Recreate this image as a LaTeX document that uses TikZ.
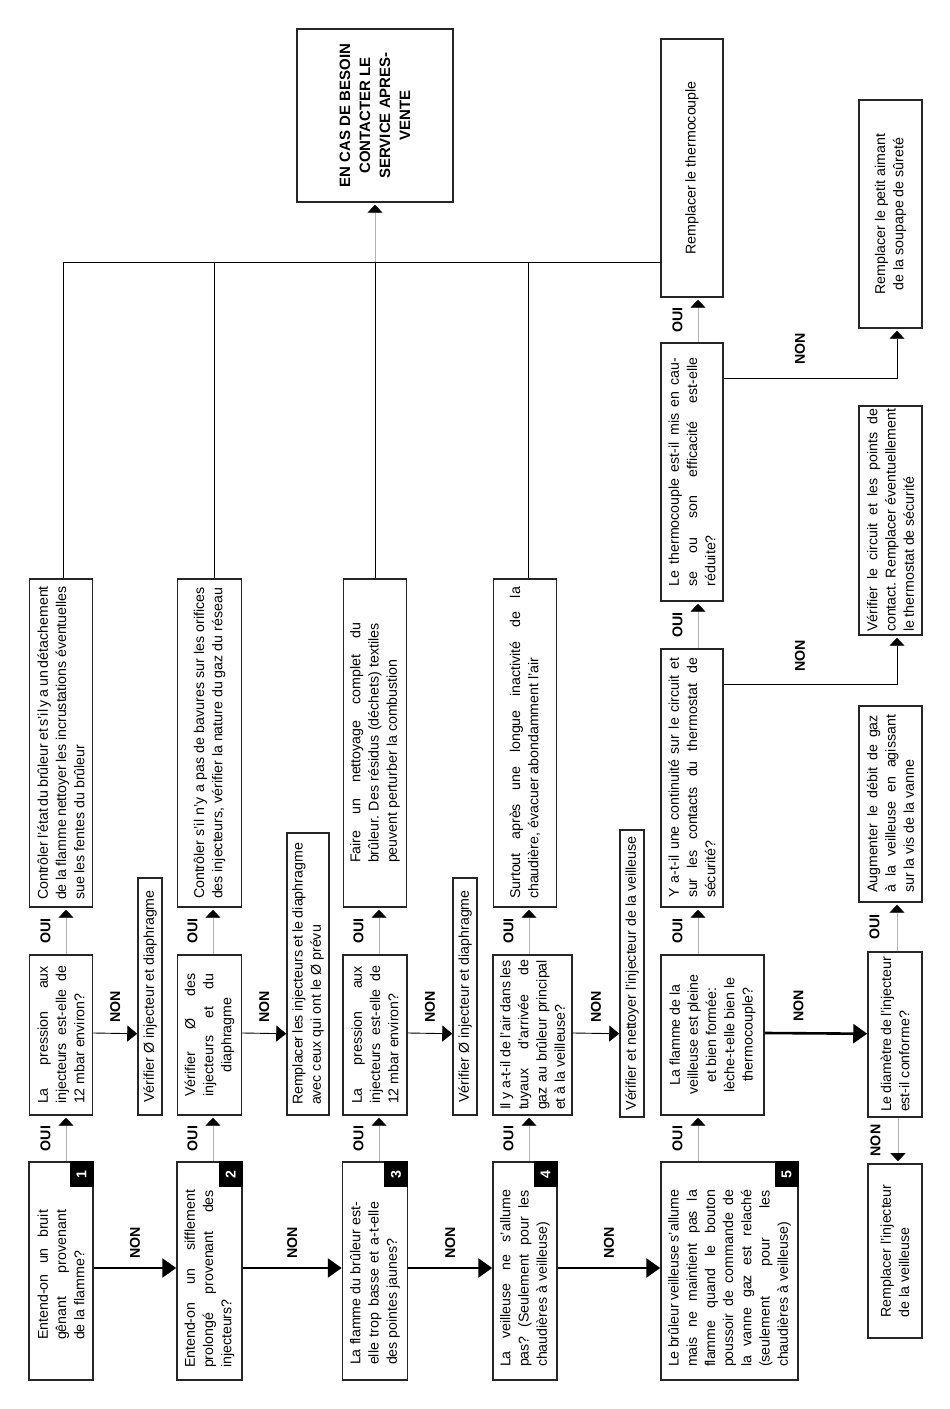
\documentclass[tikz,border=0pt]{standalone}
\usepackage{xcolor}
\usepackage{fontspec}
\setmainfont{Liberation Sans}
\usepackage{tikz}
\usetikzlibrary{arrows.meta, positioning, calc}
\newcommand{\boxfont}{\fontsize{14.2}{18.2}\selectfont\frenchspacing\hyphenpenalty=10000\exhyphenpenalty=10000}
\newcommand{\enfont}{\fontsize{15}{20}\selectfont\bfseries}

\begin{document}
\begin{tikzpicture}[x=1pt, y=1pt,
	box/.style={draw=black!85, line width=1.5pt, inner sep=0pt, font=\boxfont, align=justify},
	tagbox/.style={fill=black, text=white, font=\boxfont\bfseries, minimum width=26pt, minimum height=24pt, inner sep=0pt},
	lbl/.style={font=\boxfont\bfseries, inner sep=0pt},
	tagged/.style={execute at begin node={\rightskip=#1}},
	lastcentred/.style={execute at begin node={\leftskip=0pt plus 1fil\rightskip=0pt plus -1fil\parfillskip=0pt plus 2fil}},
	oui/.style={draw=black!30, line width=0.8pt, shorten >=2pt, -{Triangle[length=8pt, width=15pt, color=black]}},
	nonthin/.style={draw=black, line width=0.9pt, -{Triangle[length=10pt, width=16pt]}},
	nonbend/.style={draw=black, line width=0.9pt, shorten >=2pt, -{Triangle[length=8pt, width=15pt]}},
	nonthick/.style={draw=black, line width=2.6pt, -{Triangle[length=14pt, width=19pt]}},
	bus/.style={draw=black, line width=0.9pt}]
	\path[use as bounding box, fill=white] (0,0) rectangle (950,1409);
	\begin{scope}[rotate=90, transform shape]
		\node[box, minimum width=218pt, minimum height=64pt, text width=138pt, tagged=8pt] (b1) at (138,-61) {Entend-on un bruit\linebreak gênant provenant\linebreak de la flamme?};
		\node[box, minimum width=218pt, minimum height=65pt, text width=194pt, tagged=16pt] (b2) at (138,-209.5) {Entend-on un sifflement\linebreak prolongé provenant des\linebreak injecteurs?};
		\node[box, minimum width=218pt, minimum height=65pt, text width=188pt, tagged=25pt] (b3) at (138,-375) {La flamme du brûleur est-\linebreak elle trop basse et a-t-elle\linebreak des pointes jaunes?};
		\node[box, minimum width=218pt, minimum height=64pt, text width=192pt, tagged=15pt] (b4) at (138,-525) {La veilleuse ne s'allume\linebreak pas? (Seulement pour les\linebreak chaudières à veilleuse)};
		\node[box, minimum width=218pt, minimum height=137pt, text width=192pt, tagged=15pt] (b5) at (138,-729.5) {Le brûleur veilleuse s'allume\linebreak mais ne maintient pas la\linebreak flamme quand le bouton\linebreak poussoir de commande de\linebreak la vanne gaz est relaché\linebreak (seulement pour les\linebreak chaudières à veilleuse)};
		\foreach \i in {1,...,5}
			\node[tagbox, anchor=south east] (t\i) at (b\i.south east) {\i};

		\node[box, minimum width=160pt, minimum height=63pt, text width=138pt] (p1) at (374,-61) {La pression aux\linebreak injecteurs est-elle de\linebreak 12 mbar environ?};
		\node[box, minimum width=237pt, minimum height=24pt] (v1) at (412.5,-150) {Vérifier Ø injecteur et diaphragme};
		\node[box, minimum width=160pt, minimum height=64pt, text width=123pt, lastcentred] (v2) at (374,-209.5) {Vérifier Ø des\linebreak injecteurs et du\linebreak diaphragme};
		\node[box, minimum width=282pt, minimum height=42pt, text width=262pt] (r1) at (435,-308) {Remplacer les injecteurs et le diaphragme\linebreak avec ceux qui ont le Ø prévu};
		\node[box, minimum width=160pt, minimum height=64pt, text width=138pt] (p2) at (374,-375) {La pression aux\linebreak injecteurs est-elle de\linebreak 12 mbar environ?};
		\node[box, minimum width=237pt, minimum height=24pt] (v3) at (412.5,-465) {Vérifier Ø injecteur et diaphragme};
		\node[box, minimum width=160pt, minimum height=79pt, text width=150pt] (a1) at (374,-532.5) {Il y a-t-il de l'air dans les\linebreak tuyaux d'arrivée de\linebreak gaz au brûleur principal\linebreak et à la veilleuse?};
		\node[box, minimum width=287pt, minimum height=24pt] (vn) at (435.5,-632) {Vérifier et nettoyer l'injecteur de la veilleuse};
		\node[box, minimum width=160pt, minimum height=103pt, align=center] (f1) at (374,-712.5) {La flamme de la\\veilleuse est pleine\\et bien formée:\\lèche-t-elle bien le\\thermocouple?};
		\node[box, minimum width=165pt, minimum height=54pt, text width=155pt] (d1) at (374.5,-895) {Le diamètre de l'injecteur\linebreak est-il conforme?};
		\node[box, minimum width=174pt, minimum height=54pt, text width=133pt] (rv) at (158,-895) {Remplacer l'injecteur\linebreak de la veilleuse};

		\node[box, minimum width=328pt, minimum height=63pt, text width=314pt] (c1) at (666,-61) {Contrôler l'état du brûleur et s'il y a un détachement\linebreak de la flamme nettoyer les incrustations éventuelles\linebreak sue les fentes du brûleur};
		\node[box, minimum width=328pt, minimum height=64pt, text width=312pt] (c2) at (666,-209.5) {Contrôler s'il n'y a pas de bavures sur les orifices\linebreak des injecteurs, vérifier la nature du gaz du réseau};
		\node[box, minimum width=328pt, minimum height=63pt, text width=240pt] (c3) at (666,-375) {Faire un nettoyage complet du\linebreak brûleur. Des résidus (déchets) textiles\linebreak peuvent perturber la combustion};
		\node[box, minimum width=328pt, minimum height=63pt, text width=312pt] (c4) at (666,-525) {Surtout après une longue inactivité de la\linebreak chaudière, évacuer abondamment l'air};
		\node[box, minimum width=258pt, minimum height=62pt, text width=240pt] (y1) at (631,-692) {Y a-t-il une continuité sur le circuit et\linebreak sur les contacts du thermostat de\linebreak sécurité?};
		\node[box, minimum width=196pt, minimum height=63pt, text width=178pt] (ag) at (605,-890.5) {Augmenter le débit de gaz\linebreak à la veilleuse en agissant\linebreak sur la vis de la vanne};
		\node[box, minimum width=258pt, minimum height=62pt, text width=229pt] (t1q) at (937,-692) {Le thermocouple est-il mis en cau-\linebreak se ou son efficacité est-elle\linebreak réduite?};
		\node[box, minimum width=229pt, minimum height=63pt, text width=223pt] (vc) at (888.5,-890.5) {Vérifier le circuit et les points de\linebreak contact. Remplacer éventuellement\linebreak le thermostat de sécurité};
		\node[box, minimum width=258pt, minimum height=62pt] (rt) at (1241,-692) {Remplacer le thermocouple};
		\node[box, minimum width=228pt, minimum height=63pt, align=center] (pa) at (1195,-890.5) {Remplacer le petit aimant\\de la soupape de sûreté};
		\node[box, minimum width=173pt, minimum height=156pt, align=center, font=\enfont] (en) at (1293.5,-375) {EN CAS DE BESOIN\\CONTACTER LE\\SERVICE APRES-\\VENTE};

		\draw[nonthick] ($(b1.south)+(3,0)$) -- node[lbl, right=8pt] (n1) {NON} ($(b2.north)+(3,0)$);
		\draw[nonthick] ($(b2.south)+(3,0)$) -- node[lbl, right=8pt] (n2) {NON} ($(b3.north)+(3,0)$);
		\draw[nonthick] ($(b3.south)+(3,0)$) -- node[lbl, right=8pt] (n3) {NON} ($(b4.north)+(3,0)$);
		\draw[nonthick] ($(b4.south)+(3,0)$) -- node[lbl, right=8pt] (n4) {NON} ($(b5.north)+(3,0)$);

		\draw[oui] ($(b1.east)+(0,-5)$) -- node[lbl, above=15pt] (o1) {OUI} ($(p1.west)+(0,-5)$);
		\draw[oui] ($(p1.east)+(0,-5)$) -- node[lbl, above=15pt] (o2) {OUI} ($(c1.west)+(0,-5)$);
		\draw[oui] ($(b2.east)+(0,-3.5)$) -- node[lbl, above=15pt] (o3) {OUI} ($(v2.west)+(0,-3.5)$);
		\draw[oui] ($(v2.east)+(0,-3.5)$) -- node[lbl, above=15pt] (o4) {OUI} ($(c2.west)+(0,-3.5)$);
		\draw[oui] ($(b3.east)+(0,-4)$) -- node[lbl, above=15pt] (o5) {OUI} ($(p2.west)+(0,-4)$);
		\draw[oui] ($(p2.east)+(0,-4)$) -- node[lbl, above=15pt] (o6) {OUI} ($(c3.west)+(0,-4)$);
		\draw[oui] ($(b4.east)+(0,-4)$) -- node[lbl, above=15pt] (o7) {OUI} ($(a1.west)+(0,3.5)$);
		\draw[oui] ($(a1.east)+(0,3.5)$) -- node[lbl, above=15pt] (o8) {OUI} ($(c4.west)+(0,-4)$);
		\draw[oui] ($(b5.east)+(0,31.5)$) -- node[lbl, above=15pt] (o9) {OUI} ($(f1.west)+(0,14.5)$);
		\draw[oui] ($(f1.east)+(0,14.5)$) -- node[lbl, above=15pt] (o10) {OUI} ($(y1.west)+(0,-6)$);
		\draw[oui] ($(y1.east)+(0,-6)$) -- node[lbl, above=15pt] (o11) {OUI} ($(t1q.west)+(0,-6)$);
		\draw[oui] ($(t1q.east)+(0,-6)$) -- node[lbl, above=15pt] (o12) {OUI} ($(rt.west)+(0,-6)$);
		\draw[oui] ($(d1.east)+(0,-2)$) -- node[lbl, above=17pt] (o13) {OUI} ($(ag.west)+(0,-6.5)$);

		\draw[nonthin] ($(p1.south)+(2,0)$) -- node[lbl, right=10pt] (n5) {NON} ($(v1.north west)+(82,0)$);
		\draw[nonthin] ($(v2.south)+(2,0)$) -- node[lbl, right=10pt] (n6) {NON} ($(r1.north west)+(82,0)$);
		\draw[nonthin] ($(p2.south)+(2,0)$) -- node[lbl, right=10pt] (n7) {NON} ($(v3.north west)+(82,0)$);
		\draw[nonthin] ($(a1.south)+(2,0)$) -- node[lbl, right=10pt] (n8) {NON} ($(vn.north west)+(84,0)$);
		\draw[nonthick] ($(f1.south)+(2,0)$) -- node[lbl, pos=0.33, right=10pt] (n9) {NON} ($(d1.north west)+(84,0)$);
		\draw[oui] ($(d1.west)+(0,-3)$) -- node[lbl, above=17pt] (n10) {NON} ($(rv.east)+(0,-3)$);
		\draw[nonbend] ($(y1.south)+(94,0)$) |- node[lbl, pos=0.22, right=12pt] (n11) {NON} ($(vc.west)+(0,-6.5)$);
		\draw[nonbend] ($(t1q.south)+(94,0)$) |- node[lbl, pos=0.22, right=13pt] (n12) {NON} ($(pa.west)+(0,-6.5)$);

		\coordinate (busA) at (1147,-63);
		\coordinate (busB) at (1147,-661);
		\coordinate (jb2) at (1147,-214);
		\coordinate (jb3) at (1147,-375);
		\coordinate (jb4) at (1147,-528);
		\draw[bus] ($(c1.east)+(0,-2)$) -- (busA) -- (busB);
		\draw[bus] ($(c2.east)+(0,-4.5)$) -- (jb2);
		\draw[bus] (c3.east) -- (jb3);
		\draw[bus] ($(c4.east)+(0,-3)$) -- (jb4);
		\draw[oui] (jb3) -- (en.west);
	\end{scope}
\end{tikzpicture}
\end{document}
